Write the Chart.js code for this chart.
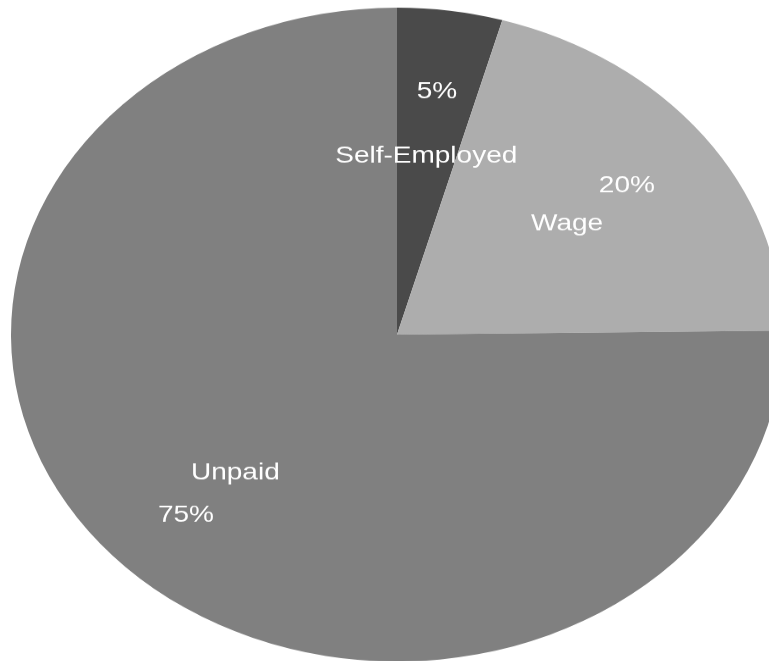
<!DOCTYPE html>
<html>
<head>
<meta charset="utf-8">
<title>Employment type</title>
<script src="https://cdn.jsdelivr.net/npm/chart.js@4.4.1/dist/chart.umd.min.js"></script>
<style>
  html, body { margin: 0; padding: 0; background: #ffffff; }
  #frame { width: 769px; height: 661px; overflow: hidden; position: relative; }
  /* the source picture is a round pie stretched to a wide frame, so squash it vertically */
  #pie { display: block; transform: scaleY(0.847); transform-origin: 0 0; }
</style>
</head>
<body>
<div id="frame">
  <canvas id="pie" width="794" height="781"></canvas>
</div>
<script>
const categories = ['Self-Employed', 'Wage', 'Unpaid'];
const shares = [4.4, 20.4, 75.2];
// percentages as printed on the slices
const pctLabels = ['5%', '20%', '75%'];
const sliceColors = ['#4a4a4a', '#adadad', '#808080'];

// writes the category name and its percentage inside each slice
const sliceLabels = {
    id: 'sliceLabels',
    afterDatasetsDraw(chart, args, opts) {
        const ctx = chart.ctx;
        const meta = chart.getDatasetMeta(0);
        ctx.save();
        ctx.font = opts.font;
        ctx.fillStyle = opts.color;
        ctx.textAlign = 'center';
        ctx.textBaseline = 'middle';
        meta.data.forEach((arc, i) => {
            const p = arc.getProps(['x', 'y', 'startAngle', 'endAngle', 'outerRadius'], true);
            const mid = (p.startAngle + p.endAngle) / 2;
            const rn = p.outerRadius * opts.nameRadius[i];
            const rp = p.outerRadius * opts.pctRadius[i];
            ctx.fillText(categories[i], p.x + Math.cos(mid) * rn, p.y + Math.sin(mid) * rn);
            ctx.fillText(pctLabels[i], p.x + Math.cos(mid) * rp, p.y + Math.sin(mid) * rp);
        });
        ctx.restore();
    }
};

new Chart(document.getElementById('pie'), {
    type: 'pie',
    data: {
        labels: categories,
        datasets: [{ data: shares, backgroundColor: sliceColors, borderWidth: 0, hoverOffset: 0 }]
    },
    options: {
        responsive: false,
        animation: false,
        events: [],
        layout: { padding: { top: 9, left: 0, right: 0, bottom: 0 } },
        plugins: {
            legend: { display: false },
            tooltip: { enabled: false },
            sliceLabels: {
                font: "28px 'Liberation Sans', Arial, sans-serif",
                color: '#ffffff',
                nameRadius: [0.55, 0.555, 0.596],
                pctRadius: [0.75, 0.75, 0.778]
            }
        }
    },
    plugins: [sliceLabels]
});
</script>
</body>
</html>
